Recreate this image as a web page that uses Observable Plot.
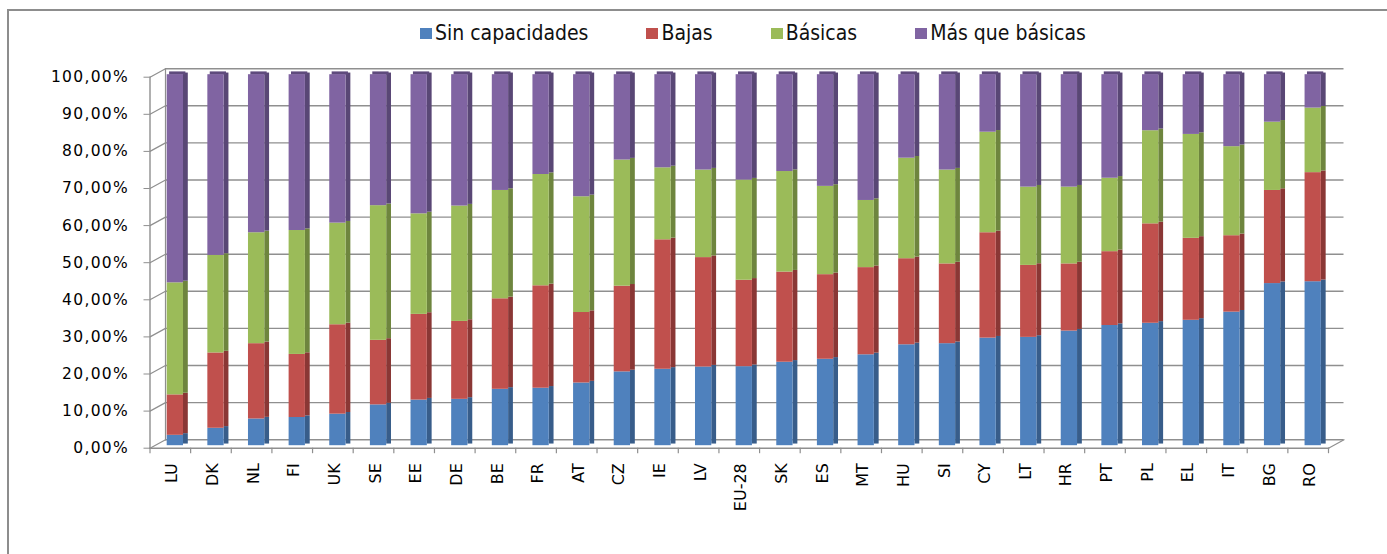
<!DOCTYPE html>
<html>
<head>
<meta charset="utf-8">
<script src="https://cdn.jsdelivr.net/npm/d3@7"></script>
<script src="https://cdn.jsdelivr.net/npm/@observablehq/plot@0.6"></script>
<style>
  body { margin: 0; background: #fff; }
  #wrap { position: relative; width: 1387px; height: 554px; overflow: hidden; background: #fff; }
  #border { position: absolute; left: 7px; top: 9px; width: 1500px; height: 600px; border: 2px solid #8d8d8d; box-sizing: border-box; }
  #legend { position: absolute; top: 21px; left: 420px; display: flex; align-items: center;
            font-family: "DejaVu Sans Condensed", "DejaVu Sans", sans-serif; font-size: 21px; color: #111; white-space: nowrap; }
  .item { display: flex; align-items: center; margin-right: 58px; }
  .sw { width: 12px; height: 11px; margin-right: 3px; }
  #chart { position: absolute; left: 0; top: 60px; }
  #chart svg g[aria-label="y-axis tick label"] text { letter-spacing: 1.3px; }
</style>
</head>
<body>
<div id="wrap">
  <div id="border"></div>
  <div id="legend"></div>
  <div id="chart"></div>
</div>
<script>
const categories = ["LU","DK","NL","FI","UK","SE","EE","DE","BE","FR","AT","CZ","IE","LV","EU-28","SK","ES","MT","HU","SI","CY","LT","HR","PT","PL","EL","IT","BG","RO"];
const seriesNames = ["Sin capacidades", "Bajas", "Básicas", "Más que básicas"];
const sinCapacidades = [2.8,4.7,7.2,7.6,8.5,11.0,12.3,12.5,15.2,15.5,16.9,19.9,20.6,21.2,21.3,22.5,23.3,24.5,27.2,27.5,29.0,29.2,30.9,32.4,33.0,33.8,36.0,43.7,44.2];
const bajas = [10.9,20.3,20.3,17.0,24.1,17.4,23.1,21.0,24.4,27.6,19.0,23.1,34.9,29.5,23.3,24.3,22.8,23.5,23.2,21.5,28.4,19.4,18.1,19.9,26.8,22.1,20.6,25.1,29.4];
const basicas = [30.2,26.3,29.9,33.4,27.4,36.3,27.1,31.1,29.2,30.0,31.2,34.0,19.4,23.6,27.0,27.1,23.8,18.1,27.1,25.3,27.1,21.1,20.7,19.8,25.1,28.0,24.0,18.4,17.4];
const masQueBasicas = [56.1,48.7,42.6,42.0,40.0,35.3,37.5,35.4,31.2,26.9,32.9,23.0,25.1,25.7,28.4,26.1,30.1,33.9,22.5,25.7,15.5,30.3,30.3,27.9,15.1,16.1,19.4,12.8,9.0];
const yTicks = [0,10,20,30,40,50,60,70,80,90,100];

const frontColors = ["#4F81BD", "#C0504D", "#9BBB59", "#8064A2"];
const sideColors  = ["#385D8A", "#8A3735", "#6E853E", "#594775"];
const topColor = "#5F4B7D";
const grid = "#8f8f8f";

const seriesValues = [sinCapacidades, bajas, basicas, masQueBasicas];
const table = [];
categories.forEach((c, i) => {
  seriesNames.forEach((s, k) => {
    table.push({cat: c, series: s, value: seriesValues[k][i], front: frontColors[k], side: sideColors[k]});
  });
});
const totals = categories.map((c, i) => ({cat: c, total: seriesValues.reduce((a, v) => a + v[i], 0)}));

// legend
const legend = document.getElementById("legend");
seriesNames.forEach((s, k) => {
  const it = document.createElement("div");
  it.className = "item";
  it.innerHTML = `<span class="sw" style="background:${frontColors[k]}"></span><span>${s}</span>`;
  legend.appendChild(it);
});

const W = 1387, H = 494;
const mL = 149.5, mR = 59;
const bw = (W - mL - mR) / categories.length;
const faceL = 17.2, faceW = 16.3, sideW = 4.8, depthY = 3.3;
const barDy = -2.5;
const backDx = 15.5, backDy = -8.5;
const vecLen = Math.hypot(backDx, backDy);
const vecRot = Math.atan2(backDx, -backDy) * 180 / Math.PI;

const chart = Plot.plot({
  width: W, height: H,
  marginLeft: mL, marginRight: mR, marginTop: 16.7, marginBottom: 106.3,
  style: {fontFamily: "DejaVu Sans, sans-serif", fontSize: "15px", color: "#000", background: "transparent"},
  x: {domain: categories, padding: 0, round: false, label: null},
  y: {domain: [0, 100], label: null},
  color: {type: "identity"},
  marks: [
    // back wall gridlines
    Plot.ruleY(yTicks, {y: d => d, dx: backDx, dy: backDy, stroke: grid, strokeWidth: 1.4}),
    // side wall connectors
    Plot.vector(yTicks, {y: d => d, frameAnchor: "left", anchor: "start", length: vecLen, rotate: vecRot, r: 0, stroke: grid, strokeWidth: 1.2}),
    // back-left vertical
    Plot.frame({anchor: "left", dx: backDx, dy: backDy, stroke: grid, strokeWidth: 1.2}),
    // front-left vertical (axis line) and floor front
    Plot.frame({anchor: "left", stroke: grid, strokeWidth: 1.4}),
    Plot.frame({anchor: "bottom", stroke: grid, strokeWidth: 1.4}),
    Plot.vector([0], {frameAnchor: "bottom-right", anchor: "start", length: vecLen, rotate: vecRot, r: 0, stroke: grid, strokeWidth: 1.2}),
    // category boundary ticks
    Plot.ruleX(categories, {x: d => d, y1: 0, y2: 0, insetBottom: -5.5, dx: -bw / 2, stroke: grid, strokeWidth: 1.2}),
    Plot.ruleX(categories.slice(-1), {x: d => d, y1: 0, y2: 0, insetBottom: -5.5, dx: bw / 2, stroke: grid, strokeWidth: 1.2}),
    // bar side faces
    Plot.barY(table, {x: "cat", y: "value", fill: "side", insetLeft: faceL + faceW, insetRight: bw - faceL - faceW - sideW, dy: barDy - depthY / 2}),
    // bar top faces
    Plot.tickY(totals, {x: "cat", y: "total", stroke: topColor, strokeWidth: depthY, insetLeft: faceL + 2.4, insetRight: bw - faceL - faceW - 2.4, dy: barDy - depthY / 2}),
    // bar front faces
    Plot.barY(table, {x: "cat", y: "value", fill: "front", insetLeft: faceL, insetRight: bw - faceL - faceW, dy: barDy}),
    // axes
    Plot.axisY(yTicks, {tickSize: 6, tickPadding: 15, stroke: grid, fill: "#000", fontSize: 15.5,
      tickFormat: d => d.toFixed(2).replace(".", ",") + "%"}),
    Plot.axisX({tickSize: 0, tickPadding: 15, tickRotate: -90, fontSize: 16, fill: "#000", dx: 2})
  ]
});
document.getElementById("chart").appendChild(chart);
</script>
</body>
</html>
